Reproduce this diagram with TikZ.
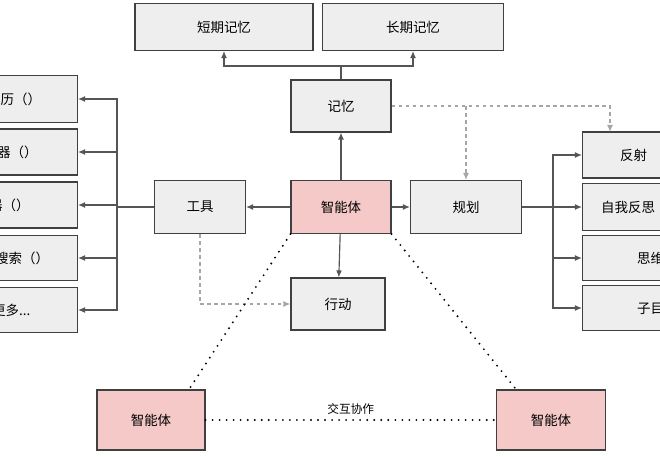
\documentclass[tikz,border=0pt]{standalone}
\usepackage{fontspec}
\newfontfamily\cjk{Noto Sans CJK SC}
\usetikzlibrary{arrows.meta,positioning}
\definecolor{boxgray}{HTML}{EEEEEE}
\definecolor{agentpink}{HTML}{F6C9C9}
\definecolor{linegray}{HTML}{555555}
\tikzset{
  box/.style={draw=black!75, line width=0.9pt, fill=boxgray, inner sep=0pt, font=\cjk\fontsize{11.5}{13}\selectfont},
  agent/.style={box, fill=agentpink},
  txt/.style={inner sep=0pt, font=\cjk\fontsize{11.5}{13}\selectfont},
  link/.style={draw=linegray, line width=1pt, -{Latex[length=6pt,width=5pt]}},
  hint/.style={draw=black!35, line width=1pt, dashed, -{Latex[length=6pt,width=5pt]}},
  talk/.style={line width=1.8pt, dash pattern=on 0pt off 6pt, line cap=round}
}
\begin{document}
\begin{tikzpicture}[x=0.03cm, y=-0.03cm]
\useasboundingbox (0,0) rectangle (660,457);
% top memory
\node[box, minimum width=5.34cm, minimum height=1.41cm] (short) at (224,27) {短期记忆};
\node[box, minimum width=5.43cm, minimum height=1.41cm] (long) at (413,27) {长期记忆};
\node[box, minimum width=3cm, minimum height=1.56cm] (mem) at (341,106) {记忆};
% centre row
\node[agent, minimum width=3cm, minimum height=1.59cm] (core) at (341,207) {智能体};
\node[box, minimum width=2.73cm, minimum height=1.59cm] (tool) at (200,207) {工具};
\node[box, minimum width=3.33cm, minimum height=1.59cm] (plan) at (466,207) {规划};
\node[box, minimum width=2.82cm, minimum height=1.56cm] (act) at (338,304) {行动};
% tools
\node[box, minimum width=4.2cm, minimum height=1.41cm, anchor=east] (t1) at (78,99) {};
\node[box, minimum width=4.2cm, minimum height=1.38cm, anchor=east] (t2) at (78,152) {};
\node[box, minimum width=4.2cm, minimum height=1.38cm, anchor=east] (t3) at (78,205) {};
\node[box, minimum width=4.2cm, minimum height=1.35cm, anchor=east] (t4) at (78,258) {};
\node[box, minimum width=4.2cm, minimum height=1.35cm, anchor=east] (t5) at (78,310) {};
\node[txt, anchor=west] at (-13,99) {日历（）};
\node[txt, anchor=west] at (-30,152) {计算器（）};
\node[txt, anchor=west] at (-65,205) {代码解释器（）};
\node[txt, anchor=west] at (-32,258) {网页搜索（）};
\node[txt, anchor=west] at (-8,310) {更多...};
% planning
\node[box, minimum width=4.2cm, minimum height=1.38cm, anchor=west] (p1) at (582,155) {};
\node[box, minimum width=4.2cm, minimum height=1.41cm, anchor=west] (p2) at (582,207) {};
\node[box, minimum width=4.2cm, minimum height=1.35cm, anchor=west] (p3) at (582,258) {};
\node[box, minimum width=4.2cm, minimum height=1.35cm, anchor=west] (p4) at (582,308) {};
\node[txt, anchor=west] at (620,155) {反射};
\node[txt, anchor=west] at (601,207) {自我反思};
\node[txt, anchor=west] at (637,258) {思维链};
\node[txt, anchor=west] at (637,308) {子目标分解};
% lower agents
\node[agent, minimum width=3.24cm, minimum height=1.8cm] (agl) at (151,420) {智能体};
\node[agent, minimum width=3.27cm, minimum height=1.8cm] (agr) at (551,420) {智能体};
% connectors
\draw[link] (core) -- (mem);
\draw[link] (core) -- (tool);
\draw[link] (core) -- (plan);
\draw[link] (core) -- (act);
\coordinate (mbus) at (341,66);
\draw[draw=linegray, line width=1pt] (mem) -- (mbus);
\draw[link] (mbus) -| (short);
\draw[link] (mbus) -| (long);
\coordinate (tbus) at (117,207);
\draw[draw=linegray, line width=1pt] (tool) -- (tbus);
\foreach \t in {t1,t2,t3,t4,t5}
  \draw[link] (tbus) |- (\t.east);
\coordinate (pbus) at (553,207);
\draw[draw=linegray, line width=1pt] (plan) -- (pbus);
\foreach \p in {p1,p2,p3,p4}
  \draw[link] (pbus) |- (\p.west);
\draw[hint] (mem.east) -| (610,132);
\draw[hint] (466,106) -- (plan.north);
\draw[hint] (tool.south) |- (act.west);
\draw[talk] (core.south west) -- (190,388);
\draw[talk] (core.south east) -- (515,388);
\draw[talk] (agl) -- node[above=4pt, txt, font=\cjk\fontsize{10}{12}\selectfont] {交互协作} (agr);
\end{tikzpicture}
\end{document}
